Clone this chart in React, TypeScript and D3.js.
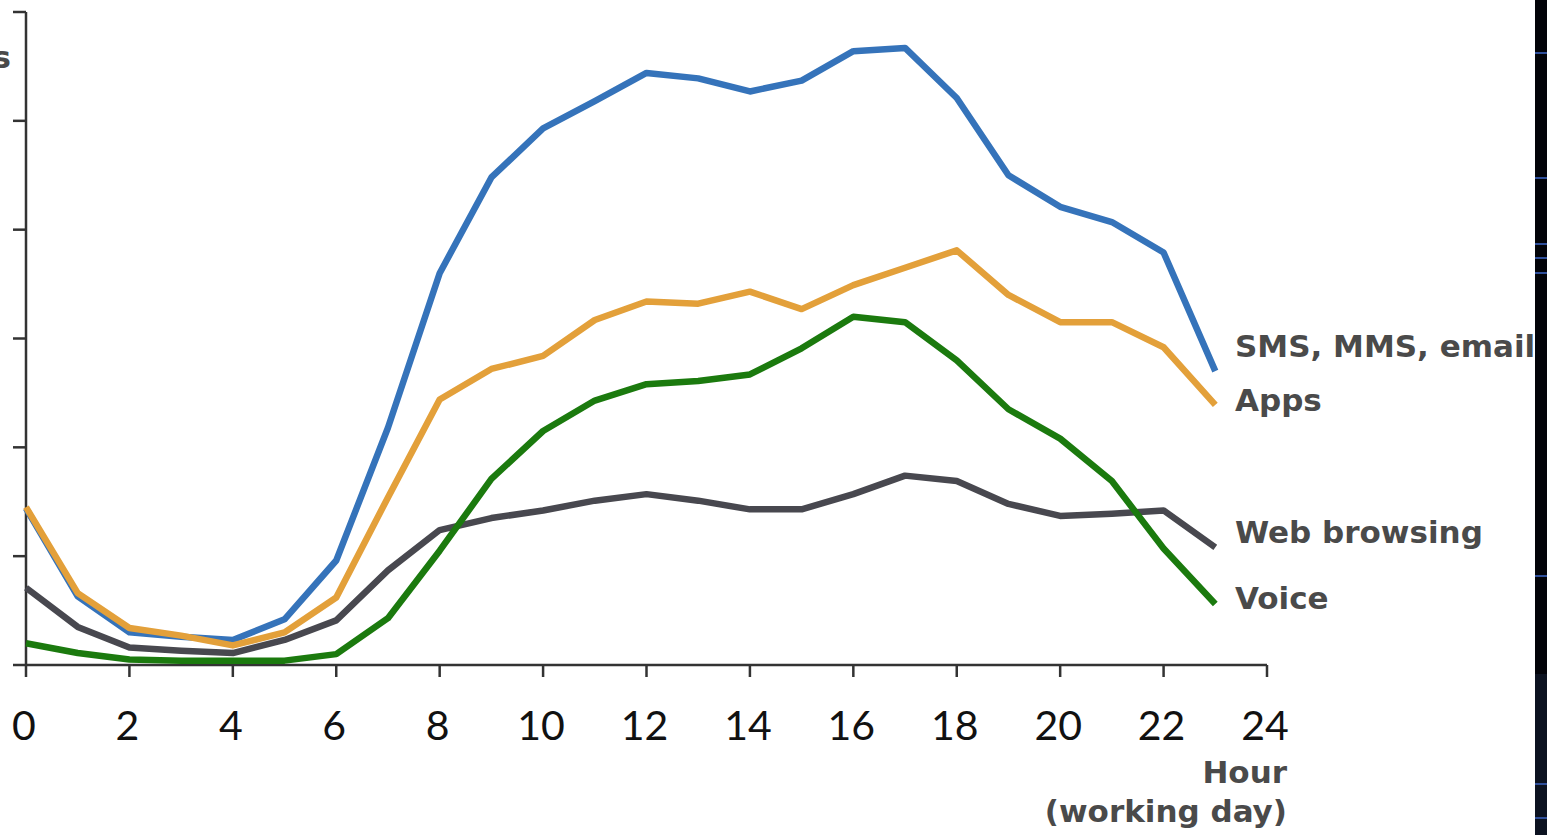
import React from "react";
import * as d3 from "d3";

const hours = d3.range(0, 24);
const smsValues = [1.44, 0.63, 0.3, 0.26, 0.23, 0.42, 0.96, 2.18, 3.6, 4.48, 4.93, 5.18, 5.44, 5.39, 5.27, 5.37, 5.64, 5.67, 5.21, 4.5, 4.21, 4.07, 3.79, 2.7];
const appsValues = [1.45, 0.66, 0.34, 0.27, 0.18, 0.3, 0.62, 1.54, 2.44, 2.72, 2.84, 3.17, 3.34, 3.32, 3.43, 3.27, 3.49, 3.65, 3.81, 3.4, 3.15, 3.15, 2.92, 2.39];
const webValues = [0.71, 0.35, 0.16, 0.13, 0.11, 0.23, 0.41, 0.87, 1.24, 1.35, 1.42, 1.51, 1.57, 1.51, 1.43, 1.43, 1.57, 1.74, 1.69, 1.48, 1.37, 1.39, 1.42, 1.08];
const voiceValues = [0.2, 0.11, 0.05, 0.04, 0.04, 0.04, 0.1, 0.43, 1.05, 1.71, 2.15, 2.43, 2.58, 2.61, 2.67, 2.91, 3.2, 3.15, 2.8, 2.35, 2.08, 1.69, 1.07, 0.56];
const xTicks = [0, 2, 4, 6, 8, 10, 12, 14, 16, 18, 20, 22, 24];
const yTicks = [0, 1, 2, 3, 4, 5, 6];
const seriesNames = ["SMS, MMS, email", "Apps", "Web browsing", "Voice"];
const bandLinesTop = [53, 178, 244, 258, 273, 576];
const bandLinesBottom = [784, 818];

const series = [
  { name: seriesNames[0], values: smsValues, color: "#3573ba", labelY: 357 },
  { name: seriesNames[1], values: appsValues, color: "#e3a03a", labelY: 411 },
  { name: seriesNames[2], values: webValues, color: "#48484f", labelY: 543 },
  { name: seriesNames[3], values: voiceValues, color: "#1b7a0e", labelY: 609 },
];

export default function App() {
  const W = 1547;
  const H = 835;
  const x = d3.scaleLinear().domain([0, 24]).range([26, 1267]);
  const y = d3.scaleLinear().domain([0, 6]).range([665, 12]);
  const line = d3
    .line<number>()
    .x((_, i) => x(hours[i]))
    .y((d) => y(d));
  const labelFont = "'DejaVu Sans', 'Open Sans', sans-serif";
  return (
    <svg
      width={W}
      height={H}
      style={{ position: "absolute", left: 0, top: 0, background: "#ffffff" }}
    >
      <rect x={0} y={0} width={W} height={H} fill="#ffffff" />
      {/* axes */}
      <g stroke="#333" strokeWidth={2.5} fill="none">
        <line x1={x(0)} x2={x(0)} y1={y(6)} y2={y(0)} />
        <line x1={x(0)} x2={x(24)} y1={y(0)} y2={y(0)} />
        {yTicks.map((t) => (
          <line key={"yt" + t} x1={x(0) - 13} x2={x(0)} y1={y(t)} y2={y(t)} />
        ))}
        {xTicks.map((t) => (
          <line key={"xt" + t} x1={x(t)} x2={x(t)} y1={y(0)} y2={y(0) + 12} />
        ))}
      </g>
      {xTicks.map((t) => (
        <text
          key={"xl" + t}
          x={x(t) - 2}
          y={740}
          textAnchor="middle"
          fontFamily="Lato, 'Open Sans', sans-serif"
          fontSize={41}
          fill="#111"
        >
          {t}
        </text>
      ))}
      {/* series */}
      {series.map((s) => (
        <path
          key={s.name}
          d={line(s.values) || ""}
          fill="none"
          stroke={s.color}
          strokeWidth={6.5}
          strokeLinejoin="round"
        />
      ))}
      {series.map((s) => (
        <text
          key={"lab" + s.name}
          x={1235}
          y={s.labelY}
          fontFamily={labelFont}
          fontWeight="bold"
          fontSize={31}
          fill="#4a4a4a"
        >
          {s.name}
        </text>
      ))}
      <text x={11} y={68} textAnchor="end" fontFamily={labelFont} fontWeight="bold" fontSize={31} fill="#4a4a4a">
        s
      </text>
      <text x={1287} y={783} textAnchor="end" fontFamily={labelFont} fontWeight="bold" fontSize={31} fill="#4a4a4a">
        Hour
      </text>
      <text x={1287} y={822} textAnchor="end" fontFamily={labelFont} fontWeight="bold" fontSize={31} fill="#4a4a4a">
        (working day)
      </text>
      {/* right dark band */}
      <rect x={1535} y={0} width={12} height={674} fill="#020308" />
      <rect x={1535} y={674} width={12} height={H - 674} fill="#0c1220" />
      {bandLinesTop.concat(bandLinesBottom).map((ly) => (
        <line key={"bl" + ly} x1={1535} x2={1547} y1={ly} y2={ly} stroke="#2f4f9a" strokeWidth={2} />
      ))}
    </svg>
  );
}
